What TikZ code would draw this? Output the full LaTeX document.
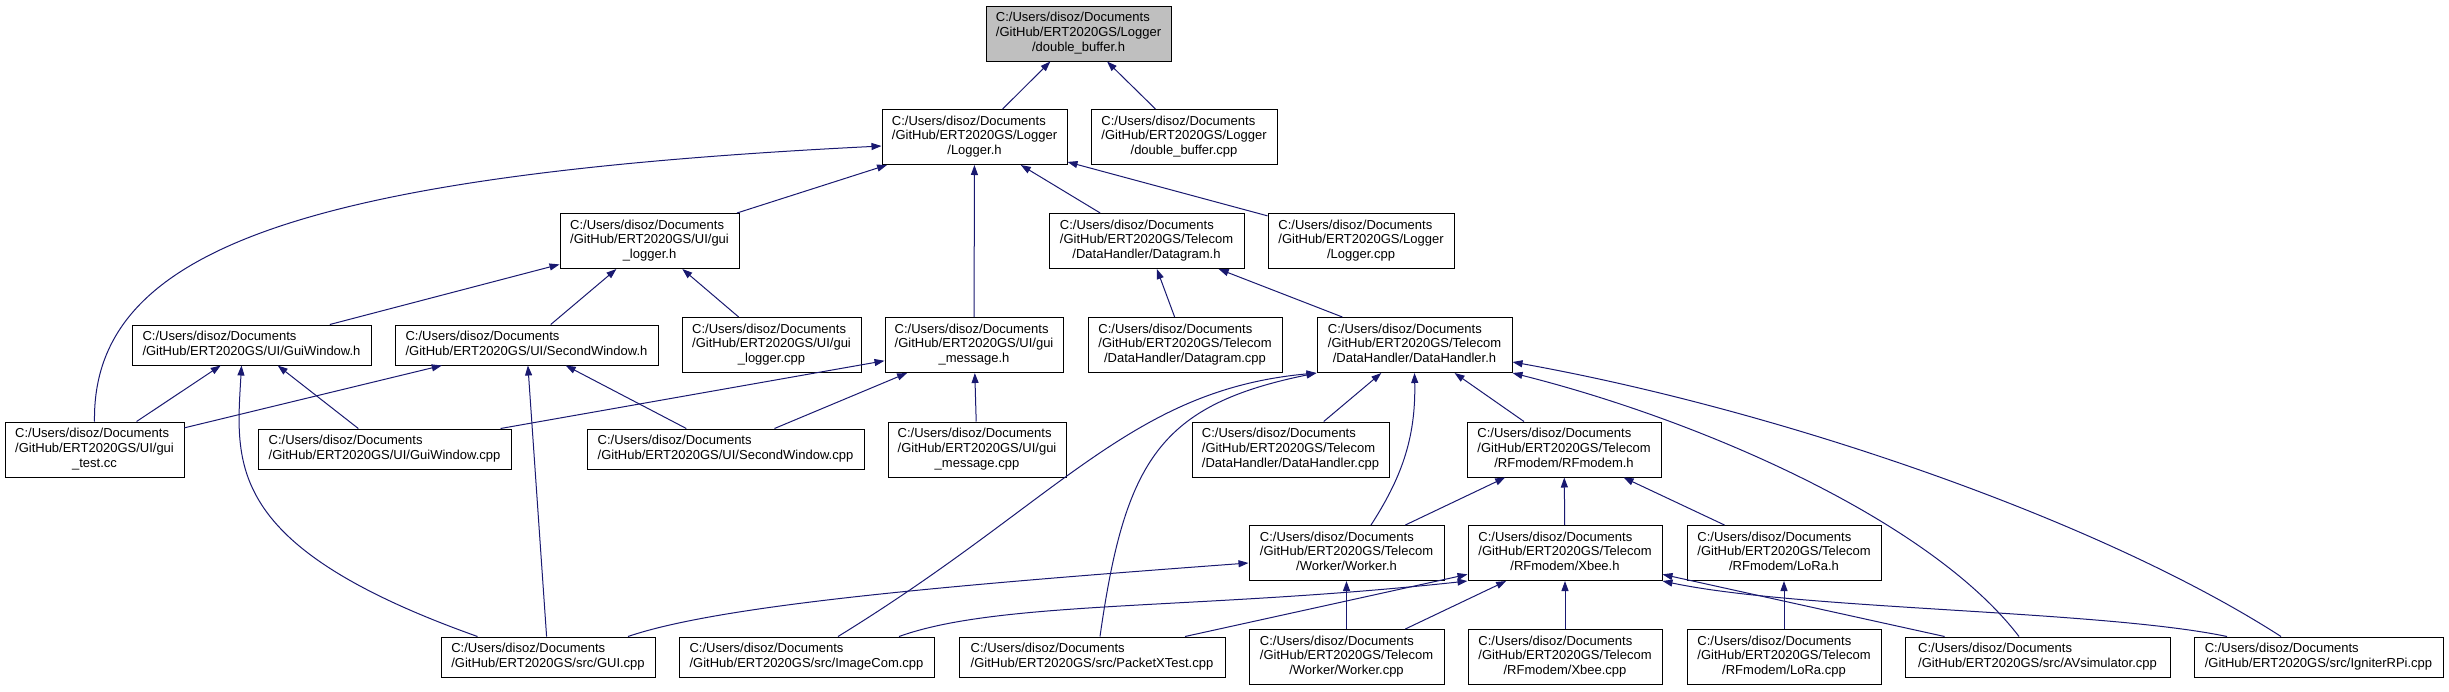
\documentclass[tikz,border=0pt]{standalone}
\usepackage{fontspec}
\setmainfont{Liberation Sans}
\usepackage{xcolor}
\usepackage{tikz}
\usetikzlibrary{calc,arrows.meta}
\definecolor{edgec}{HTML}{191970}
\definecolor{curfile}{HTML}{BFBFBF}
\tikzset{
  ar/.style={-{Triangle[length=10pt,width=7pt]},line width=1pt,edgec},
  incbox/.style={draw=black,line width=1pt,fill=white,inner sep=0pt,minimum height=55pt,font=\fontsize{13}{14.6}\selectfont},
  incflat/.style={incbox,minimum height=40pt}
}
\newcommand{\fthree}[2]{\begin{tabular}{@{}l@{}}C:/Users/disoz/Documents\\#1\\\multicolumn{1}{@{}c@{}}{#2}\end{tabular}}
\newcommand{\ftwo}[1]{\begin{tabular}{@{}l@{}}C:/Users/disoz/Documents\\#1\end{tabular}}

\begin{document}
\begin{tikzpicture}[x=1pt,y=-1pt]
\useasboundingbox (0,0) rectangle (2449,691);
\node[incbox,fill=curfile,minimum width=185pt] (dbh) at (1078.5,33.5) {\fthree{/GitHub/ERT2020GS/Logger}{/double\_buffer.h}};
\node[incbox,minimum width=185pt] (loggerh) at (974.5,137) {\fthree{/GitHub/ERT2020GS/Logger}{/Logger.h}};
\node[incbox,minimum width=186pt] (dbcpp) at (1184,137) {\fthree{/GitHub/ERT2020GS/Logger}{/double\_buffer.cpp}};
\node[incbox,minimum width=179pt] (guiloggerh) at (649.5,241) {\fthree{/GitHub/ERT2020GS/UI/gui}{\_logger.h}};
\node[incbox,minimum width=195pt] (datagramh) at (1146.5,241) {\fthree{/GitHub/ERT2020GS/Telecom}{/DataHandler/Datagram.h}};
\node[incbox,minimum width=186pt] (loggercpp) at (1361,241) {\fthree{/GitHub/ERT2020GS/Logger}{/Logger.cpp}};
\node[incflat,minimum width=239pt] (guiwinh) at (251.5,345) {\ftwo{/GitHub/ERT2020GS/UI/GuiWindow.h}};
\node[incflat,minimum width=263pt] (secwinh) at (526.5,345) {\ftwo{/GitHub/ERT2020GS/UI/SecondWindow.h}};
\node[incbox,minimum width=179pt] (guiloggercpp) at (771.5,345) {\fthree{/GitHub/ERT2020GS/UI/gui}{\_logger.cpp}};
\node[incbox,minimum width=178pt] (guimsgh) at (974,345) {\fthree{/GitHub/ERT2020GS/UI/gui}{\_message.h}};
\node[incbox,minimum width=194pt] (datagramcpp) at (1185,345) {\fthree{/GitHub/ERT2020GS/Telecom}{/DataHandler/Datagram.cpp}};
\node[incbox,minimum width=195pt] (dhh) at (1414.5,345) {\fthree{/GitHub/ERT2020GS/Telecom}{/DataHandler/DataHandler.h}};
\node[incbox,minimum width=179pt] (guitest) at (94.5,449.5) {\fthree{/GitHub/ERT2020GS/UI/gui}{\_test.cc}};
\node[incflat,minimum width=253pt] (guiwincpp) at (384.5,449) {\ftwo{/GitHub/ERT2020GS/UI/GuiWindow.cpp}};
\node[incflat,minimum width=277pt] (secwincpp) at (725.5,449) {\ftwo{/GitHub/ERT2020GS/UI/SecondWindow.cpp}};
\node[incbox,minimum width=178pt] (guimsgcpp) at (977,449.5) {\fthree{/GitHub/ERT2020GS/UI/gui}{\_message.cpp}};
\node[incbox,minimum width=197pt] (dhcpp) at (1290.5,449.5) {\fthree{/GitHub/ERT2020GS/Telecom}{/DataHandler/DataHandler.cpp}};
\node[incbox,minimum width=194pt] (rfmodemh) at (1564,449.5) {\fthree{/GitHub/ERT2020GS/Telecom}{/RFmodem/RFmodem.h}};
\node[incbox,minimum width=195pt] (workerh) at (1346.5,553) {\fthree{/GitHub/ERT2020GS/Telecom}{/Worker/Worker.h}};
\node[incbox,minimum width=194pt] (xbeeh) at (1565,553) {\fthree{/GitHub/ERT2020GS/Telecom}{/RFmodem/Xbee.h}};
\node[incbox,minimum width=194pt] (lorah) at (1784,553) {\fthree{/GitHub/ERT2020GS/Telecom}{/RFmodem/LoRa.h}};
\node[incflat,minimum width=214pt] (guicpp) at (548,657) {\ftwo{/GitHub/ERT2020GS/src/GUI.cpp}};
\node[incflat,minimum width=255pt] (imagecom) at (806.5,657) {\ftwo{/GitHub/ERT2020GS/src/ImageCom.cpp}};
\node[incflat,minimum width=266pt] (packetx) at (1092,657) {\ftwo{/GitHub/ERT2020GS/src/PacketXTest.cpp}};
\node[incbox,minimum width=195pt] (workercpp) at (1346.5,657) {\fthree{/GitHub/ERT2020GS/Telecom}{/Worker/Worker.cpp}};
\node[incbox,minimum width=194pt] (xbeecpp) at (1565,657) {\fthree{/GitHub/ERT2020GS/Telecom}{/RFmodem/Xbee.cpp}};
\node[incbox,minimum width=194pt] (loracpp) at (1784,657) {\fthree{/GitHub/ERT2020GS/Telecom}{/RFmodem/LoRa.cpp}};
\node[incflat,minimum width=265pt] (avsim) at (2037.5,657) {\ftwo{/GitHub/ERT2020GS/src/AVsimulator.cpp}};
\node[incflat,minimum width=249pt] (igniter) at (2318.5,657) {\ftwo{/GitHub/ERT2020GS/src/IgniterRPi.cpp}};
\foreach \a/\b in {loggerh/dbh,dbcpp/dbh,guiloggerh/loggerh,guimsgh/loggerh,datagramh/loggerh,loggercpp/loggerh,
  guiwinh/guiloggerh,secwinh/guiloggerh,guiloggercpp/guiloggerh,datagramcpp/datagramh,dhh/datagramh,
  guitest/guiwinh,guiwincpp/guiwinh,guitest/secwinh,secwincpp/secwinh,guicpp/secwinh,
  guiwincpp/guimsgh,secwincpp/guimsgh,guimsgcpp/guimsgh,dhcpp/dhh,rfmodemh/dhh,
  workerh/rfmodemh,xbeeh/rfmodemh,lorah/rfmodemh,workercpp/workerh,xbeecpp/xbeeh,loracpp/lorah,
  workercpp/xbeeh,packetx/xbeeh,avsim/xbeeh}
  \draw[ar] (\a) -- (\b);
\draw[ar] (guitest.north) .. controls (92,250) and (300,175) .. ($(loggerh.west)+(0,9)$);
\draw[ar] ($(guicpp.north west)+(37,0)$) .. controls (223,546) and (236,464) .. ($(guiwinh.south)+(-10,0)$);
\draw[ar] ($(imagecom.north)+(31.5,0)$) .. controls (1060,500) and (1130,390) .. (dhh.south west);
\draw[ar] ($(packetx.north)+(8,0)$) .. controls (1125,460) and (1160,405) .. (dhh.south west);
\draw[ar] ($(workerh.north)+(24.5,0)$) .. controls (1400,480) and (1416,440) .. (dhh.south);
\draw[ar] ($(avsim.north)+(-18.5,0)$) .. controls (1930,520) and (1700,420) .. (dhh.south east);
\draw[ar] ($(igniter.north)+(-37.5,0)$) .. controls (2100,520) and (1780,410) .. ($(dhh.east)+(0,17)$);
\draw[ar] ($(guicpp.north)+(80,0)$) .. controls (720,605) and (950,585) .. ($(workerh.west)+(0,10)$);
\draw[ar] ($(imagecom.north)+(92.5,0)$) .. controls (1000,600) and (1200,610) .. (xbeeh.south west);
\draw[ar] ($(igniter.north)+(-91.5,0)$) .. controls (2100,610) and (1800,610) .. (xbeeh.south east);
\end{tikzpicture}
\end{document}
